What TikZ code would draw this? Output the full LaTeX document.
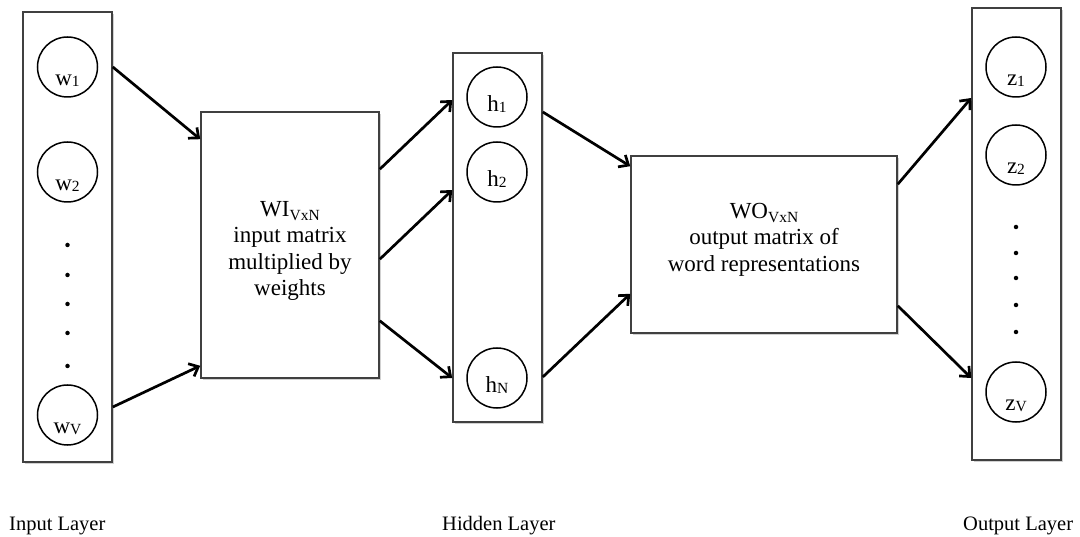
\documentclass[tikz,border=0pt]{standalone}
\usepackage{fontspec}
\setmainfont{Liberation Serif}
\usetikzlibrary{arrows.meta,shadows}

% lowered, smaller index text
\newcommand\idx[2]{\raisebox{-#1}{\fontsize{15.5}{15.5}\selectfont #2}}

\begin{document}
\begin{tikzpicture}[x=1pt,y=-1pt,
  layerbox/.style={draw=black!75, line width=1.6pt, fill=white, inner sep=0pt,
    drop shadow={shadow xshift=1.5pt, shadow yshift=-2pt, fill=black, opacity=0.18}},
  unit/.style={draw=black, line width=1.5pt, circle, fill=white, inner sep=0pt, minimum size=60pt},
  unitlabel/.style={anchor=base, inner sep=0pt, font=\fontsize{23}{23}\selectfont},
  boxtext/.style={align=center, inner sep=0pt, font=\fontsize{23}{26.5}\selectfont},
  dotmark/.style={circle, fill=black, inner sep=0pt, minimum size=4.5pt},
  layername/.style={anchor=base west, inner sep=0pt, font=\fontsize{20.5}{20.5}\selectfont},
  conn/.style={line width=2.7pt, -{Straight Barb[length=8pt,width=14pt,line width=2.7pt]}}]

\useasboundingbox (0,0) rectangle (1080,537);

% layer and matrix boxes
\node[layerbox, minimum width=89pt, minimum height=450pt] (inbox) at (67.5,237) {};
\node[layerbox, minimum width=178pt, minimum height=266pt] (wi) at (290,245) {};
\node[layerbox, minimum width=89pt, minimum height=369pt] (hbox) at (497.5,237.5) {};
\node[layerbox, minimum width=266pt, minimum height=177pt] (wo) at (764,244.5) {};
\node[layerbox, minimum width=89pt, minimum height=452pt] (outbox) at (1016.5,234) {};

% input units
\node[unit] (w1) at (67.5,67) {};
\node[unit] (w2) at (67.5,172) {};
\node[unit] (wV) at (67.5,415) {};
\node[unitlabel] (w1t) at (67.5,86) {w\idx{1pt}{1}};
\node[unitlabel] (w2t) at (67.5,191) {w\idx{1pt}{2}};
\node[unitlabel] (wVt) at (67.5,434) {w\idx{1pt}{V}};
\foreach \y [count=\i] in {245,275,304,333,366}
  \node[dotmark] (din\i) at (67.5,\y) {};

% hidden units
\node[unit] (h1) at (497,97) {};
\node[unit] (h2) at (497,172) {};
\node[unit] (hN) at (497,378) {};
\node[unitlabel] (h1t) at (497,112) {h\idx{1pt}{1}};
\node[unitlabel] (h2t) at (497,187) {h\idx{1pt}{2}};
\node[unitlabel] (hNt) at (497,393) {h\idx{1pt}{N}};

% output units
\node[unit] (z1) at (1016,67) {};
\node[unit] (z2) at (1016,155) {};
\node[unit] (zV) at (1016,392) {};
\node[unitlabel] (z1t) at (1016,86) {z\idx{1pt}{1}};
\node[unitlabel] (z2t) at (1016,174) {z\idx{1pt}{2}};
\node[unitlabel] (zVt) at (1016,411) {z\idx{1pt}{V}};
\foreach \y [count=\i] in {227,253,278,305,332}
  \node[dotmark] (dout\i) at (1016,\y) {};

% matrix descriptions
\node[boxtext] (witext) at ([yshift=-6pt]wi.center)
  {WI\idx{4pt}{VxN}\\input matrix\\multiplied by\\weights};
\node[boxtext] (wotext) at ([yshift=5pt]wo.center)
  {WO\idx{4pt}{VxN}\\output matrix of\\word representations};

% connections
\draw[conn] (inbox.east |- w1) -- ([yshift=-28pt]wi.north west);
\draw[conn] ([yshift=8pt]inbox.east |- wV) -- ([yshift=13pt]wi.south west);
\draw[conn] ([yshift=-58pt]wi.north east) -- ([yshift=-3pt]hbox.west |- h1);
\draw[conn] ([yshift=-148pt]wi.north east) -- ([yshift=-18pt]hbox.west |- h2);
\draw[conn] ([yshift=58pt]wi.south east) -- (hbox.west |- hN);
\draw[conn] ([yshift=-15pt]hbox.east |- h1) -- ([yshift=-11pt]wo.north west);
\draw[conn] ([yshift=1pt]hbox.east |- hN) -- ([yshift=40pt]wo.south west);
\draw[conn] ([yshift=-29pt]wo.north east) -- ([yshift=-31pt]outbox.west |- z1);
\draw[conn] ([yshift=28pt]wo.south east) -- ([yshift=14pt]outbox.west |- zV);

% layer names
\node[layername] (inname) at (9,530) {Input Layer};
\node[layername] (hidname) at (442,530) {Hidden Layer};
\node[layername] (outname) at (963,530) {Output Layer};

\end{tikzpicture}
\end{document}
